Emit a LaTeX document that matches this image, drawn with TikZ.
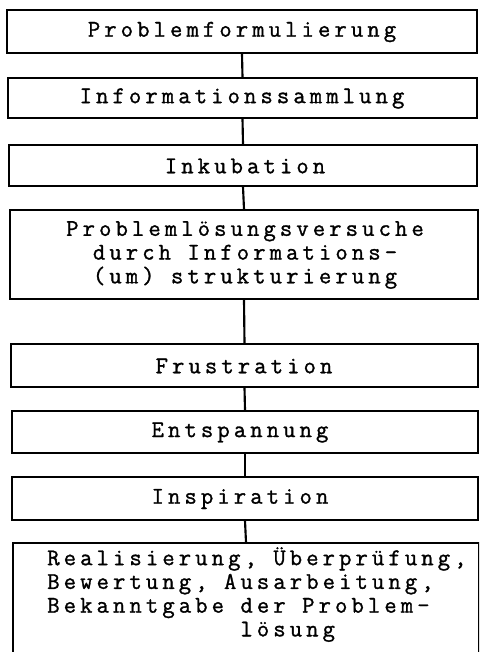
\documentclass[tikz,border=0pt]{standalone}
\usepackage{fontspec}
\setmonofont[LetterSpace=17,FakeBold=1.2]{Latin Modern Mono}
\begin{document}
\begin{tikzpicture}[x=0.75pt,y=-0.75pt,
  box/.style={draw, line width=1.2pt, rectangle, inner sep=0pt},
  lbl/.style={inner sep=0pt, font=\fontsize{18}{17.8}\selectfont\ttfamily},
  conn/.style={line width=1.6pt}]
\useasboundingbox (0,0) rectangle (479,652);
\clip (0,0) rectangle (479,652);
\node[box, minimum width=470*0.75pt, minimum height=43*0.75pt] (b1) at (242,31.5) {};
\node[box, minimum width=469*0.75pt, minimum height=40*0.75pt] (b2) at (242.5,98) {};
\node[box, minimum width=468*0.75pt, minimum height=41*0.75pt] (b3) at (243,165.5) {};
\node[box, minimum width=468*0.75pt, minimum height=89*0.75pt] (b4) at (244,254.5) {};
\node[box, minimum width=467*0.75pt, minimum height=43*0.75pt] (b5) at (244.5,365.5) {};
\node[box, minimum width=466*0.75pt, minimum height=42*0.75pt] (b6) at (245,432) {};
\node[box, minimum width=466*0.75pt, minimum height=43*0.75pt] (b7) at (245,498.5) {};
\node[box, minimum width=466*0.75pt, minimum height=160*0.75pt] (b8) at (246,623) {};
\node[lbl] (t1) at (242,32) {Problemformulierung};
\node[lbl] (t2) at (242,98.5) {Informationssammlung};
\node[lbl] (t3) at (245,166) {Inkubation};
\node[lbl, align=center] (t4) at (245,255) {Problemlösungsversuche\\durch Informations-\\(um) strukturierung};
\node[lbl] (t5) at (244,366) {Frustration};
\node[lbl] (t6) at (240,432.5) {Entspannung};
\node[lbl] (t7) at (240,499) {Inspiration};
\node[lbl, align=left, anchor=north west] (t8) at (47,547) {Realisierung, Überprüfung,\\Bewertung, Ausarbeitung,\\Bekanntgabe der Problem-\\\phantom{xxxxxxxxxxxx}lösung};
\draw[conn] (b1.south) -- (b2.north);
\draw[conn] (b2.south) -- (b3.north);
\draw[conn] (b3.south) -- (b4.north);
\draw[conn] (b4.south) -- (b5.north);
\draw[conn] (b5.south) -- (b6.north);
\draw[conn] (b6.south) -- (b7.north);
\draw[conn] (b7.south) -- (b8.north);
\end{tikzpicture}
\end{document}
